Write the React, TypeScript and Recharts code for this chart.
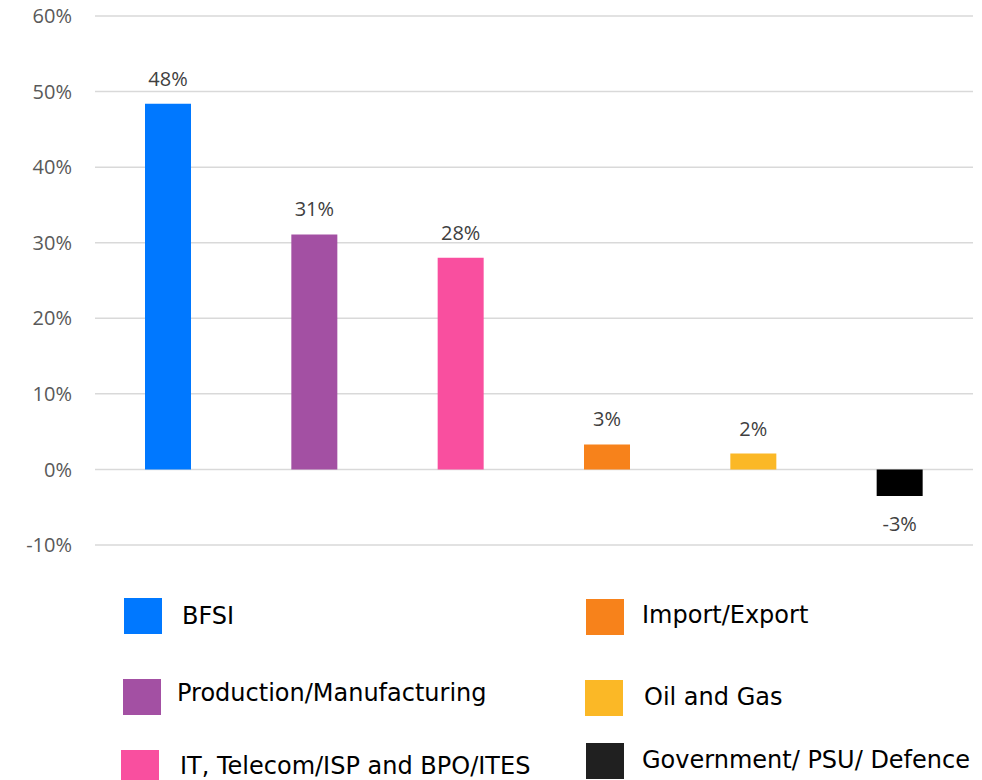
import React from 'react';
import { BarChart, Bar, XAxis, YAxis, CartesianGrid, Cell, LabelList } from 'recharts';

const sectors = [
  'BFSI',
  'Production/Manufacturing',
  'IT, Telecom/ISP and BPO/ITES',
  'Import/Export',
  'Oil and Gas',
  'Government/ PSU/ Defence',
];
const growth = [48.4, 31.1, 28.0, 3.3, 2.1, -3.5];
const growthLabels = ['48%', '31%', '28%', '3%', '2%', '-3%'];
const colors = ['#0078ff', '#a350a3', '#f94f9f', '#f7821b', '#fbb826', '#000000'];
const yTicks = [-10, 0, 10, 20, 30, 40, 50, 60];

const data = sectors.map((name, i) => ({ name, value: growth[i], label: growthLabels[i] }));

// legend slots (left column then right column)
const legendSlots = [
  { x: 124, y: 598, tx: 182, ty: 616 },
  { x: 123, y: 679, tx: 177, ty: 693 },
  { x: 121, y: 750, tx: 180, ty: 766 },
  { x: 586, y: 599, tx: 642, ty: 615 },
  { x: 585, y: 680, tx: 644, ty: 697 },
  { x: 586, y: 743, tx: 642, ty: 760 },
];

const ValueLabel = (props: any) => {
  const { x, y, width, height, index } = props;
  const top = Math.min(y, y + height);
  const bottom = Math.max(y, y + height);
  const neg = growth[index] < 0;
  return (
    <text
      x={x + width / 2}
      y={neg ? bottom + 35 : top - 18}
      textAnchor="middle"
      fill="#404040"
      fontSize={20}
      fontFamily="'Open Sans', sans-serif"
    >
      {growthLabels[index]}
    </text>
  );
};

export default function App() {
  return (
    <div style={{ position: 'absolute', left: 0, top: 0, width: 982, height: 780, background: '#fff' }}>
      <BarChart
        width={982}
        height={780}
        data={data}
        margin={{ top: 16, right: 9, left: 0, bottom: 235 }}
      >
        <CartesianGrid vertical={false} stroke="#d9d9d9" strokeWidth={1.5} />
        <XAxis dataKey="name" hide />
        <YAxis
          width={95}
          domain={[-10, 60]}
          ticks={yTicks}
          interval={0}
          axisLine={false}
          tickLine={false}
          tickSize={0}
          tickMargin={23}
          tickFormatter={(v: number) => `${v}%`}
          tick={{ fill: '#595959', fontSize: 20, fontFamily: "'Open Sans', sans-serif" }}
        />
        <Bar dataKey="value" barSize={46} isAnimationActive={false}>
          {data.map((d, i) => (
            <Cell key={d.name} fill={colors[i]} />
          ))}
          <LabelList dataKey="label" content={ValueLabel} />
        </Bar>
      </BarChart>
      <svg width={982} height={780} style={{ position: 'absolute', left: 0, top: 0, pointerEvents: 'none' }}>
        {sectors.map((s, i) => (
          <g key={s}>
            <rect x={legendSlots[i].x} y={legendSlots[i].y} width={38} height={36} fill={i === 5 ? '#202020' : colors[i]} />
            <text
              x={legendSlots[i].tx}
              y={legendSlots[i].ty}
              dominantBaseline="central"
              fontSize={24}
              fontFamily="'DejaVu Sans', sans-serif"
              fill="#000"
            >
              {s}
            </text>
          </g>
        ))}
      </svg>
    </div>
  );
}
